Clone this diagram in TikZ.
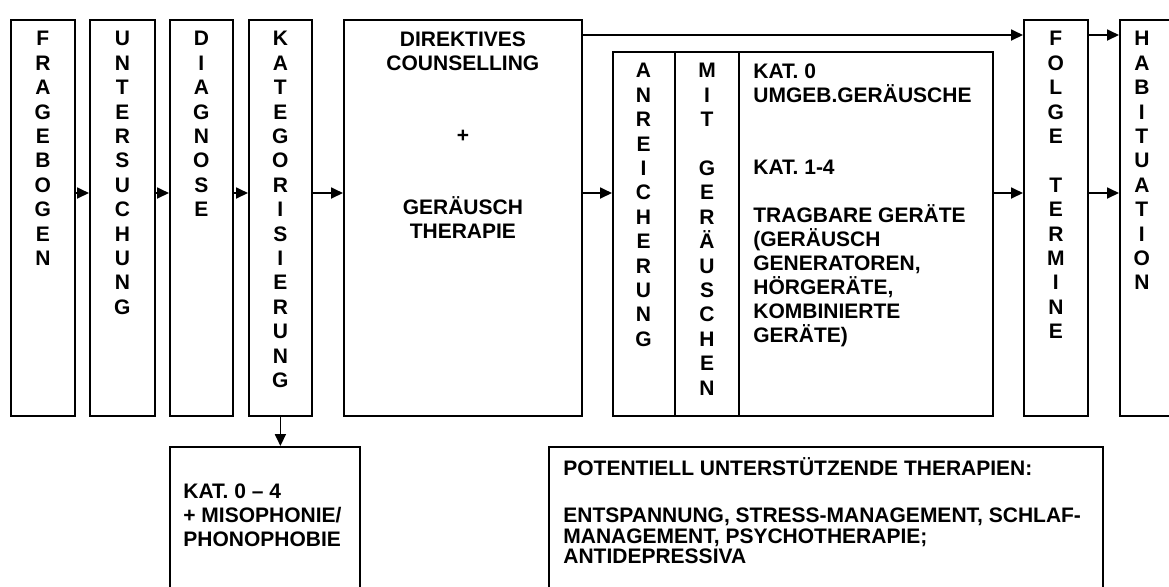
\documentclass[tikz,border=0pt]{standalone}
\usepackage{fontspec}
\setmainfont{Liberation Sans}
\usetikzlibrary{arrows.meta, positioning}

\begin{document}
\begin{tikzpicture}[x=0.5pt, y=-0.5pt,
    box/.style={draw, line width=0.9pt, anchor=north west, inner sep=0pt, minimum height=198pt},
    stack/.style={anchor=north, inner sep=0pt, align=center, font=\bfseries\fontsize{10.5}{12.2}\selectfont},
    txt/.style={anchor=north west, inner sep=0pt, align=left, font=\bfseries\fontsize{10.5}{12}\selectfont},
    pfeil/.style={-{Triangle[length=6pt, width=5.5pt]}, line width=0.9pt}]
    % Rahmen und Ausschnitt
    \useasboundingbox (0,0) rectangle (1169,586);
    \clip (0,0) rectangle (1169,586);
    \fill[white] (0,0) rectangle (1169,586);
    \coordinate (oben) at (0,35);
    \coordinate (mitte) at (0,193);

    % Hauptablauf
    \node[box, minimum width=32pt] (frage) at (10,19) {};
    \node[box, minimum width=32.5pt] (unter) at (89,19) {};
    \node[box, minimum width=31.5pt] (diag) at (169,19) {};
    \node[box, minimum width=31.5pt] (kateg) at (248,19) {};
    \node[box, minimum width=119pt] (direkt) at (343,19) {};
    \node[box, minimum width=190pt, minimum height=182pt] (anreich) at (612,51) {};
    \node[box, minimum width=32pt] (folge) at (1023,19) {};
    \node[box, minimum width=40pt] (habit) at (1119,19) {};

    % Unterteilung der Anreicherung
    \draw[line width=0.9pt] ([xshift=31.5pt]anreich.north west) -- ([xshift=31.5pt]anreich.south west);
    \draw[line width=0.9pt] ([xshift=63.5pt]anreich.north west) -- ([xshift=63.5pt]anreich.south west);

    % Untere Kästen
    \node[box, minimum width=95pt, minimum height=80pt] (katbox) at (169,446) {};
    \node[box, minimum width=277pt, minimum height=80pt] (stuetz) at (548,446) {};

    % Beschriftungen
    \node[stack] (t-frage) at ([yshift=-6pt]frage.north) {F\\R\\A\\G\\E\\B\\O\\G\\E\\N};
    \node[stack] (t-unter) at ([yshift=-6pt]unter.north) {U\\N\\T\\E\\R\\S\\U\\C\\H\\U\\N\\G};
    \node[stack] (t-diag) at ([yshift=-6pt]diag.north) {D\\I\\A\\G\\N\\O\\S\\E};
    \node[stack] (t-kateg) at ([yshift=-6pt]kateg.north) {K\\A\\T\\E\\G\\O\\R\\I\\S\\I\\E\\R\\U\\N\\G};
    \node[stack, font=\bfseries\fontsize{10.5}{12}\selectfont] (t-direkt) at ([yshift=-6pt]direkt.north)
        {DIREKTIVES\\COUNSELLING\\[24pt]+\\[24pt]GERÄUSCH\\THERAPIE};
    \node[stack] (t-anr) at ([xshift=15.75pt, yshift=-6pt]anreich.north west) {A\\N\\R\\E\\I\\C\\H\\E\\R\\U\\N\\G};
    \node[stack] (t-mit) at ([xshift=47.5pt, yshift=-6pt]anreich.north west) {M\\I\\T\\[12.2pt]G\\E\\R\\Ä\\U\\S\\C\\H\\E\\N};
    \node[txt] (t-kat) at ([xshift=70.5pt, yshift=-6pt]anreich.north west)
        {KAT. 0\\UMGEB.GERÄUSCHE\\[24pt]KAT. 1-4\\[12pt]TRAGBARE GERÄTE\\(GERÄUSCH\\GENERATOREN,\\HÖRGERÄTE,\\KOMBINIERTE\\GERÄTE)};
    \node[stack] (t-folge) at ([yshift=-6pt]folge.north) {F\\O\\L\\G\\E\\[12.2pt]T\\E\\R\\M\\I\\N\\E};
    \node[stack] (t-habit) at ([xshift=-9pt, yshift=-6pt]habit.north) {H\\A\\B\\I\\T\\U\\A\\T\\I\\O\\N};
    \node[txt] (t-katbox) at ([xshift=7pt, yshift=-18.75pt]katbox.north west)
        {KAT. 0 – 4\\+ MISOPHONIE/\\PHONOPHOBIE};
    \node[txt, font=\bfseries\fontsize{10.5}{10.2}\selectfont] (t-stuetz) at ([xshift=7.5pt, yshift=-5.5pt]stuetz.north west)
        {POTENTIELL UNTERSTÜTZENDE THERAPIEN:\\[13.5pt]ENTSPANNUNG, STRESS-MANAGEMENT, SCHLAF-\\MANAGEMENT, PSYCHOTHERAPIE;\\ANTIDEPRESSIVA};

    % Pfeile
    \draw[pfeil] (frage.east |- mitte) -- (unter.west |- mitte);
    \draw[pfeil] (unter.east |- mitte) -- (diag.west |- mitte);
    \draw[pfeil] (diag.east |- mitte) -- (kateg.west |- mitte);
    \draw[pfeil] (kateg.east |- mitte) -- (direkt.west |- mitte);
    \draw[pfeil] (direkt.east |- mitte) -- (anreich.west |- mitte);
    \draw[pfeil] (anreich.east |- mitte) -- (folge.west |- mitte);
    \draw[pfeil] (direkt.east |- oben) -- (folge.west |- oben);
    \draw[pfeil] (folge.east |- oben) -- (habit.west |- oben);
    \draw[pfeil] (folge.east |- mitte) -- (habit.west |- mitte);
    \draw[pfeil] (kateg.south) -- (katbox.north -| kateg.south);
\end{tikzpicture}
\end{document}
